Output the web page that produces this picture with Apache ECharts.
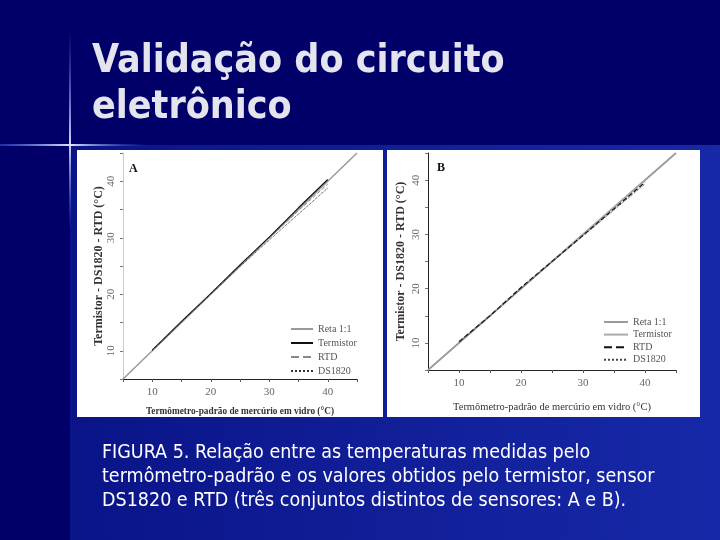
<!DOCTYPE html>
<html>
<head>
<meta charset="utf-8">
<script src="https://cdn.jsdelivr.net/npm/echarts@6/dist/echarts.min.js"></script>
<style>html,body{margin:0;padding:0;background:#000068;}#c{width:720px;height:540px;}</style>
</head>
<body>
<div id="c"></div>
<script>
// ---- data ----
const titleText = 'Validação do circuito\neletrônico';
const captionText = 'FIGURA 5. Relação entre as temperaturas medidas pelo\ntermômetro-padrão e os valores obtidos pelo termistor, sensor\nDS1820 e RTD (três conjuntos distintos de sensores: A e B).';
const xAxisName = 'Termômetro-padrão de mercúrio em vidro (°C)';
const yAxisName = 'Termistor - DS1820 - RTD (°C)';
const seriesNames = ['Reta 1:1', 'Termistor', 'RTD', 'DS1820'];
const panelLabels = ['A', 'B'];
const axisMin = 5, axisMax = 45;
const tickLabels = [10, 20, 30, 40];
const reta = [5, 45];
const sensorX = [10, 15, 20, 25, 30, 35, 40];
const aTermistor = [10.1, 15.2, 20.1, 25.2, 30.1, 35.3, 40.3];
const aRTD = [10.0, 15.0, 20.0, 25.0, 29.9, 34.8, 39.5];
const aDS1820 = [10.0, 15.1, 20.0, 24.9, 29.6, 34.2, 38.8];
const bTermistor = [10.3, 15.1, 20.1, 25.1, 30.0, 35.0, 40.0];
const bRTD = [10.2, 15.0, 20.2, 25.0, 29.8, 34.7, 39.6];
const bDS1820 = [10.1, 14.9, 20.0, 24.9, 29.7, 34.5, 39.3];

const pair = (xs, ys) => xs.map((x, i) => [x, ys[i]]);
const serif = 'Liberation Serif';

function xAx(gi, nameGap, bold, nameSize) {
  return {
    gridIndex: gi, type: 'value', min: axisMin, max: axisMax, interval: 5,
    name: xAxisName, nameLocation: 'middle', nameGap: nameGap,
    nameTextStyle: {fontFamily: serif, fontSize: nameSize, color: '#333', fontWeight: bold ? 'bold' : 'normal'},
    axisLine: {show: true, onZero: false, lineStyle: {color: '#222', width: 1}},
    axisTick: {show: true, length: 3, lineStyle: {color: '#555'}},
    axisLabel: {fontFamily: serif, fontSize: 11, color: '#666', margin: 8,
      formatter: v => tickLabels.includes(v) ? String(v) : ''},
    splitLine: {show: false}
  };
}
function yAx(gi, nameGap, lineColor) {
  return {
    gridIndex: gi, type: 'value', min: axisMin, max: axisMax, interval: 5,
    name: yAxisName, nameLocation: 'middle', nameGap: nameGap,
    nameTextStyle: {fontFamily: serif, fontSize: 12, fontWeight: 'bold', color: '#333'},
    axisLine: {show: true, onZero: false, lineStyle: {color: lineColor, width: 1}},
    axisTick: {show: true, length: 3, lineStyle: {color: '#777'}},
    axisLabel: {fontFamily: serif, fontSize: 11, color: '#666', rotate: 90, margin: 6,
      formatter: v => tickLabels.includes(v) ? String(v) : ''},
    splitLine: {show: false}
  };
}
function ln(name, gi, data, color, width, type, z) {
  return {name: name, type: 'line', xAxisIndex: gi, yAxisIndex: gi, data: data,
    symbol: 'none', z: z, silent: true,
    itemStyle: {color: color, opacity: 0},
    lineStyle: {color: color, width: width, type: type}};
}
const bNames = seriesNames.map(n => n + ' ');

const chart = echarts.init(document.getElementById('c'), null, {renderer: 'canvas'});
chart.setOption({
  backgroundColor: '#000068',
  animation: false,
  graphic: [
    {type: 'rect', z: -10, shape: {x: 70, y: 145, width: 650, height: 395},
      style: {fill: new echarts.graphic.LinearGradient(0, 0, 1, 0, [{offset: 0, color: '#0a1488'}, {offset: 1, color: '#1729a8'}])}},
    {type: 'rect', z: -9, shape: {x: 69, y: 30, width: 2, height: 200},
      style: {fill: new echarts.graphic.LinearGradient(0, 0, 0, 1, [{offset: 0, color: 'rgba(90,120,255,0)'}, {offset: 0.57, color: 'rgba(200,215,255,1)'}, {offset: 1, color: 'rgba(90,120,255,0)'}])}},
    {type: 'rect', z: -9, shape: {x: 0, y: 144, width: 150, height: 2},
      style: {fill: new echarts.graphic.LinearGradient(0, 0, 1, 0, [{offset: 0, color: 'rgba(60,90,230,0.5)'}, {offset: 0.47, color: 'rgba(220,230,255,1)'}, {offset: 1, color: 'rgba(60,90,230,0)'}])}},
    {type: 'rect', z: -8, shape: {x: 77, y: 150, width: 306, height: 267}, style: {fill: '#ffffff'}},
    {type: 'rect', z: -8, shape: {x: 387, y: 150, width: 313, height: 267}, style: {fill: '#ffffff'}}
  ],
  title: [
    {text: titleText, left: 87, top: 34,
      textStyle: {fontFamily: 'DejaVu Sans Condensed, DejaVu Sans', fontWeight: 'bold', fontSize: 39, lineHeight: 46, color: '#e4e4ee'}},
    {text: captionText, left: 97, top: 436,
      textStyle: {fontFamily: 'DejaVu Sans Condensed, DejaVu Sans', fontWeight: 'normal', fontSize: 19.5, lineHeight: 24, color: '#ffffff'}},
    {text: panelLabels[0], left: 124, top: 158, textStyle: {fontFamily: serif, fontWeight: 'bold', fontSize: 12, color: '#111'}},
    {text: panelLabels[1], left: 432, top: 157, textStyle: {fontFamily: serif, fontWeight: 'bold', fontSize: 12, color: '#111'}}
  ],
  legend: [
    {data: seriesNames, orient: 'vertical', left: 290, top: 324, padding: 0, itemWidth: 22, itemHeight: 8, itemGap: 4,
      itemStyle: {opacity: 0},
      textStyle: {fontFamily: serif, fontSize: 10, color: '#555'}, selectedMode: false},
    {data: bNames, orient: 'vertical', left: 603, top: 317, padding: 0, itemWidth: 24, itemHeight: 8, itemGap: 2.6,
      itemStyle: {opacity: 0},
      textStyle: {fontFamily: serif, fontSize: 10, color: '#555'}, selectedMode: false}
  ],
  grid: [
    {left: 123, top: 153, width: 234, height: 226},
    {left: 428, top: 153, width: 248, height: 217}
  ],
  xAxis: [xAx(0, 28, true, 9.3), xAx(1, 32, false, 10.5)],
  yAxis: [yAx(0, 18, '#cccccc'), yAx(1, 21, '#222222')],
  series: [
    ln(seriesNames[0], 0, pair(reta, reta), '#9a9a9a', 1.5, 'solid', 2),
    ln(seriesNames[1], 0, pair(sensorX, aTermistor), '#111111', 1.2, 'solid', 3),
    ln(seriesNames[2], 0, pair(sensorX, aRTD), '#888888', 1, 'dashed', 4),
    ln(seriesNames[3], 0, pair(sensorX, aDS1820), '#333333', 1, 'dotted', 5),
    ln(bNames[0], 1, pair(reta, reta), '#9a9a9a', 1.8, 'solid', 2),
    ln(bNames[1], 1, pair(sensorX, bTermistor), '#aaaaaa', 1, 'solid', 3),
    ln(bNames[2], 1, pair(sensorX, bRTD), '#111111', 1.2, 'dashed', 4),
    ln(bNames[3], 1, pair(sensorX, bDS1820), '#444444', 1, 'dotted', 5)
  ]
});
</script>
</body>
</html>
